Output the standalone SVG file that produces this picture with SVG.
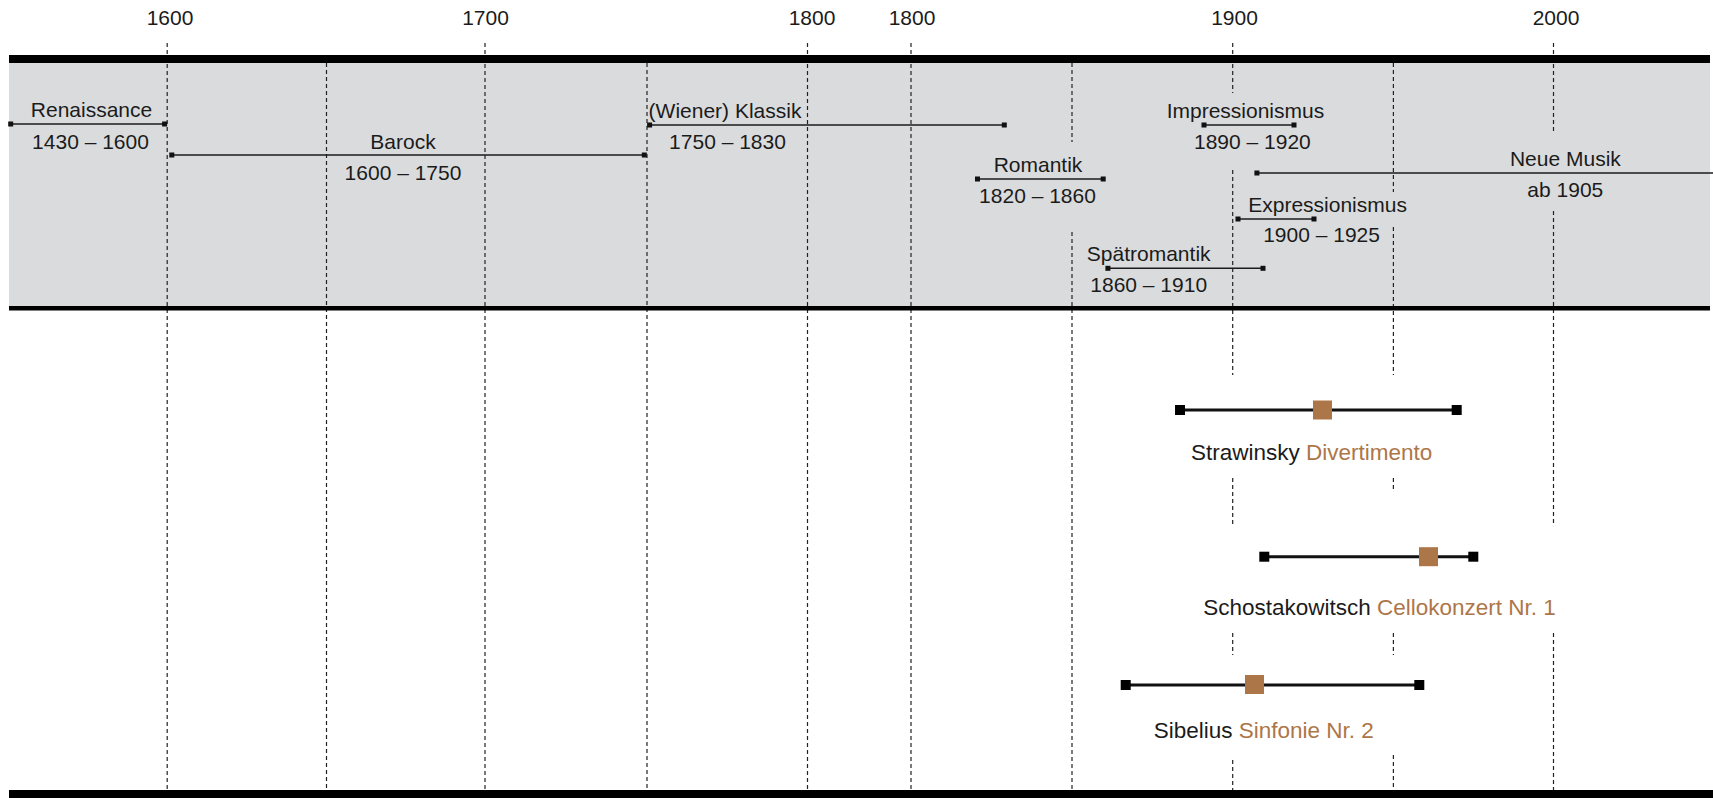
<svg xmlns="http://www.w3.org/2000/svg" width="1713" height="798" viewBox="0 0 1713 798">
<style>
text{font-family:"Liberation Sans",Arial,sans-serif;fill:#1b1b1b}
.yr{font-size:21px;text-anchor:middle}
.pl{font-size:21px;text-anchor:middle}
.wl{font-size:22.5px;text-anchor:middle}
.br{fill:#ad7649}
.grid line{stroke:#222;stroke-width:1.2;stroke-dasharray:4 3}
.span{stroke:#1b1b1b;stroke-width:1.5}
.sq{fill:#111}
.wline{stroke:#111;stroke-width:3}
.wsq{fill:#000}
.wmark{fill:#ad7649}
</style>
<rect x="9" y="63" width="1701" height="244" fill="#dadbdd"/>
<g class="grid" id="grid">
<line x1="167.2" y1="43" x2="167.2" y2="792"/>
<line x1="326.5" y1="63" x2="326.5" y2="792"/>
<line x1="485" y1="43" x2="485" y2="792"/>
<line x1="647" y1="63" x2="647" y2="792"/>
<line x1="807.5" y1="43" x2="807.5" y2="792"/>
<line x1="911" y1="43" x2="911" y2="792"/>
<line x1="1072" y1="63" x2="1072" y2="142"/>
<line x1="1072" y1="232" x2="1072" y2="792"/>
<line x1="1232.7" y1="43" x2="1232.7" y2="93"/>
<line x1="1232.7" y1="170" x2="1232.7" y2="375"/>
<line x1="1232.7" y1="478" x2="1232.7" y2="524"/>
<line x1="1232.7" y1="633" x2="1232.7" y2="655"/>
<line x1="1232.7" y1="760" x2="1232.7" y2="792"/>
<line x1="1393.4" y1="63" x2="1393.4" y2="192"/>
<line x1="1393.4" y1="227" x2="1393.4" y2="375"/>
<line x1="1393.4" y1="478" x2="1393.4" y2="492"/>
<line x1="1393.4" y1="633" x2="1393.4" y2="655"/>
<line x1="1393.4" y1="755" x2="1393.4" y2="792"/>
<line x1="1553.5" y1="43" x2="1553.5" y2="134"/>
<line x1="1553.5" y1="211" x2="1553.5" y2="524"/>
<line x1="1553.5" y1="633" x2="1553.5" y2="792"/>
</g>
<rect x="9" y="55" width="1701" height="8" fill="#000"/>
<rect x="9" y="306" width="1701" height="4.5" fill="#000"/>
<rect x="9" y="790" width="1704" height="8" fill="#000"/>
<g id="axis">
<text class="yr" x="170" y="25">1600</text>
<text class="yr" x="485.5" y="25">1700</text>
<text class="yr" x="812" y="25">1800</text>
<text class="yr" x="912" y="25">1800</text>
<text class="yr" x="1234.5" y="25">1900</text>
<text class="yr" x="1556" y="25">2000</text>
</g>
<g id="connectors">
<line class="span" x1="10.7" y1="124" x2="164.6" y2="124"/>
<line class="span" x1="171.8" y1="155" x2="644.3" y2="155"/>
<line class="span" x1="649.6" y1="125" x2="1004.3" y2="125"/>
<line class="span" x1="977.5" y1="179" x2="1103.2" y2="179"/>
<line class="span" x1="1107.9" y1="268.3" x2="1263" y2="268.3"/>
<line class="span" x1="1204" y1="125" x2="1294" y2="125"/>
<line class="span" x1="1256.9" y1="173" x2="1713" y2="173"/>
<line class="span" x1="1238" y1="219" x2="1314" y2="219"/>
<line class="wline" x1="1180" y1="410" x2="1456.7" y2="410"/>
<line class="wline" x1="1264.3" y1="556.7" x2="1473.3" y2="556.7"/>
<line class="wline" x1="1125.7" y1="685" x2="1419.3" y2="685"/>
</g>
<g id="renaissance">
<rect class="sq" x="8.2" y="121.5" width="5" height="5"/>
<rect class="sq" x="162.1" y="121.5" width="5" height="5"/>
<text class="pl" x="91.5" y="117">Renaissance</text>
<text class="pl" x="90.5" y="149">1430 – 1600</text>
</g>
<g id="barock">
<rect class="sq" x="169.3" y="152.5" width="5" height="5"/>
<rect class="sq" x="641.8" y="152.5" width="5" height="5"/>
<text class="pl" x="403" y="149">Barock</text>
<text class="pl" x="403" y="180">1600 – 1750</text>
</g>
<g id="klassik">
<rect class="sq" x="647.1" y="122.5" width="5" height="5"/>
<rect class="sq" x="1001.8" y="122.5" width="5" height="5"/>
<text class="pl" x="725" y="118">(Wiener) Klassik</text>
<text class="pl" x="727.5" y="149">1750 – 1830</text>
</g>
<g id="romantik">
<rect class="sq" x="975" y="176.5" width="5" height="5"/>
<rect class="sq" x="1100.7" y="176.5" width="5" height="5"/>
<text class="pl" x="1038" y="172.3">Romantik</text>
<text class="pl" x="1037.5" y="202.7">1820 – 1860</text>
</g>
<g id="spaetromantik">
<rect class="sq" x="1105.4" y="265.8" width="5" height="5"/>
<rect class="sq" x="1260.5" y="265.8" width="5" height="5"/>
<text class="pl" x="1148.7" y="260.7">Spätromantik</text>
<text class="pl" x="1148.7" y="291.7">1860 – 1910</text>
</g>
<g id="impressionismus">
<rect class="sq" x="1201.5" y="122.5" width="5" height="5"/>
<rect class="sq" x="1291.5" y="122.5" width="5" height="5"/>
<text class="pl" x="1245.4" y="118">Impressionismus</text>
<text class="pl" x="1252.4" y="149">1890 – 1920</text>
</g>
<g id="neuemusik">
<rect class="sq" x="1254.4" y="170.5" width="5" height="5"/>
<text class="pl" x="1565.4" y="166">Neue Musik</text>
<text class="pl" x="1565.3" y="197.3">ab 1905</text>
</g>
<g id="expressionismus">
<rect class="sq" x="1235.5" y="216.5" width="5" height="5"/>
<rect class="sq" x="1311.5" y="216.5" width="5" height="5"/>
<text class="pl" x="1327.6" y="211.7">Expressionismus</text>
<text class="pl" x="1321.6" y="242.3">1900 – 1925</text>
</g>
<g id="strawinsky">
<rect class="wsq" x="1175" y="405" width="10" height="10"/>
<rect class="wsq" x="1451.7" y="405" width="10" height="10"/>
<rect class="wmark" x="1313" y="400.5" width="19" height="19"/>
<text class="wl" x="1311.7" y="460">Strawinsky <tspan class="br">Divertimento</tspan></text>
</g>
<g id="schostakowitsch">
<rect class="wsq" x="1259.3" y="551.7" width="10" height="10"/>
<rect class="wsq" x="1468.3" y="551.7" width="10" height="10"/>
<rect class="wmark" x="1419" y="547.2" width="19" height="19"/>
<text class="wl" x="1379.5" y="615">Schostakowitsch <tspan class="br">Cellokonzert Nr. 1</tspan></text>
</g>
<g id="sibelius">
<rect class="wsq" x="1120.7" y="680" width="10" height="10"/>
<rect class="wsq" x="1414.3" y="680" width="10" height="10"/>
<rect class="wmark" x="1245" y="675" width="19" height="19"/>
<text class="wl" x="1263.8" y="738.3">Sibelius <tspan class="br">Sinfonie Nr. 2</tspan></text>
</g>
</svg>
